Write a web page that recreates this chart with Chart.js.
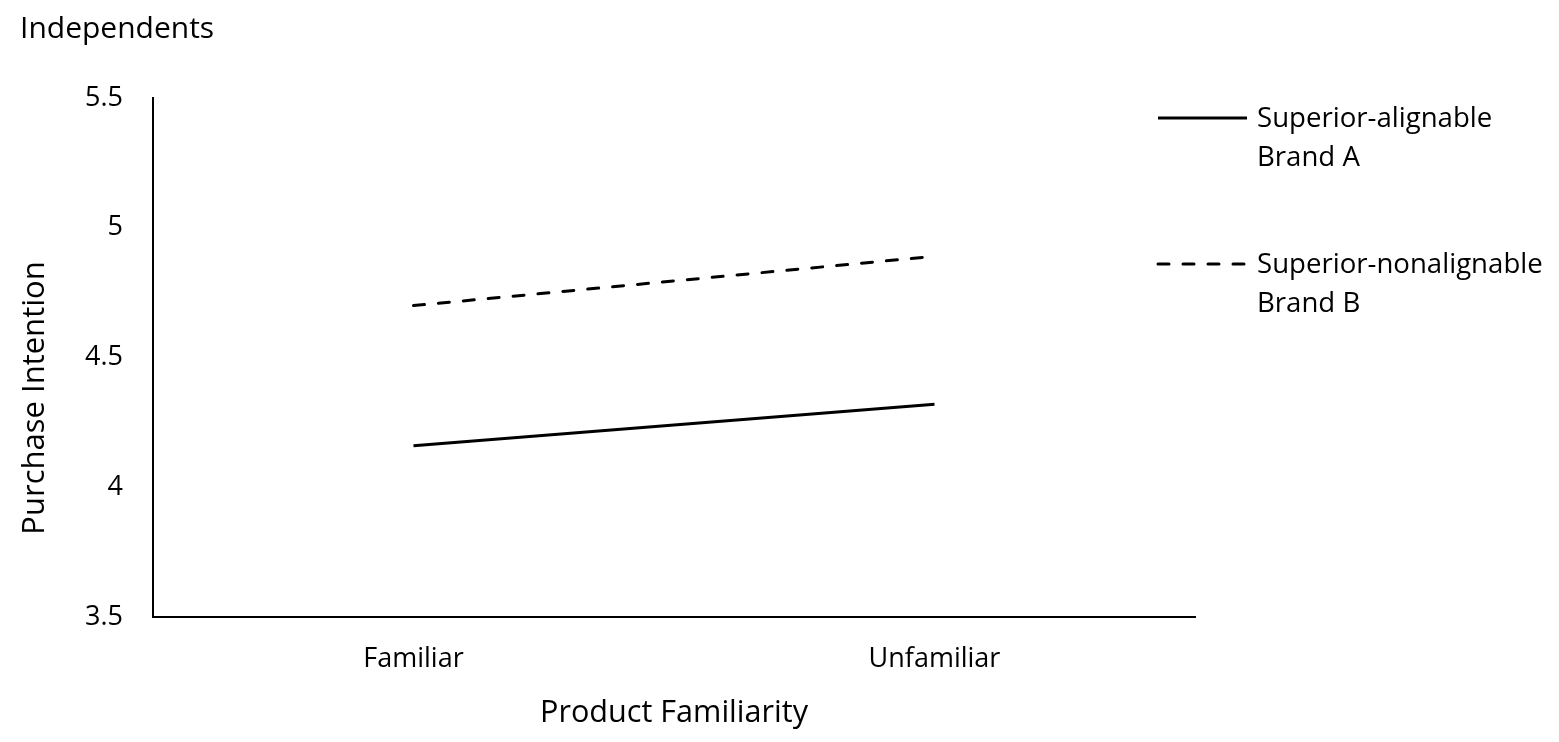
<!DOCTYPE html>
<html>
<head>
<meta charset="utf-8">
<script src="https://cdn.jsdelivr.net/npm/chart.js@4/dist/chart.umd.min.js"></script>
<style>
  html, body { margin: 0; padding: 0; background: #ffffff; }
  #wrap { width: 1559px; height: 742px; position: relative; }
</style>
</head>
<body>
<div id="wrap"><canvas id="c" width="1559" height="742"></canvas></div>
<script>
const categories = ["Familiar", "Unfamiliar"];
const seriesNames = [["Superior-alignable", "Brand A"], ["Superior-nonalignable", "Brand B"]];
const alignableA = [4.16, 4.32];
const nonalignableB = [4.70, 4.89];
const yTicks = [3.5, 4, 4.5, 5, 5.5];
const chartTitle = "Independents";
const xTitle = "Product Familiarity";
const yTitle = "Purchase Intention";

const FONT = "'Open Sans', Lato, sans-serif";

const overlay = {
  id: 'overlay',
  afterDraw(chart) {
    const ctx = chart.ctx;
    ctx.save();
    ctx.fillStyle = '#000';
    ctx.font = "30px " + FONT;
    ctx.textBaseline = 'alphabetic';
    ctx.textAlign = 'left';
    ctx.fillText(chartTitle, 20, 38);
    // y-axis title (placed lower than the plot centre, as in the reference)
    ctx.save();
    ctx.font = "31px " + FONT;
    ctx.translate(35, 398);
    ctx.rotate(-Math.PI / 2);
    ctx.textAlign = 'center';
    ctx.textBaseline = 'middle';
    ctx.fillText(yTitle, 0, 0);
    ctx.restore();
    // legend
    ctx.font = "27.6px " + FONT;
    const rows = [118, 264];
    chart.data.datasets.forEach((ds, i) => {
      const y = rows[i];
      ctx.save();
      ctx.strokeStyle = '#000';
      ctx.lineWidth = 3;
      ctx.lineCap = i === 0 ? 'butt' : 'round';
      ctx.setLineDash(ds.borderDash || []);
      ctx.beginPath();
      ctx.moveTo(1158, y);
      ctx.lineTo(i === 0 ? 1247 : 1245, y);
      ctx.stroke();
      ctx.restore();
      ds.label.forEach((t, k) => ctx.fillText(t, 1257, y + 9 + k * 39));
    });
    ctx.restore();
  }
};

new Chart(document.getElementById('c'), {
  type: 'line',
  data: {
    labels: categories,
    datasets: [
      { label: seriesNames[0], data: alignableA, borderColor: '#000', borderWidth: 3,
        pointRadius: 0, fill: false, tension: 0 },
      { label: seriesNames[1], data: nonalignableB, borderColor: '#000', borderWidth: 3,
        borderDash: [11, 14], borderCapStyle: 'round', pointRadius: 0, fill: false, tension: 0 }
    ]
  },
  options: {
    responsive: false,
    animation: false,
    devicePixelRatio: 1,
    layout: { padding: { left: 0, right: 364, top: 98, bottom: 0 } },
    plugins: { legend: { display: false }, title: { display: false }, tooltip: { enabled: false } },
    scales: {
      x: {
        offset: true,
        grid: { display: false, drawTicks: false },
        border: { display: true, color: '#000', width: 2 },
        ticks: { color: '#000', font: { family: FONT, size: 27 }, padding: 26 },
        title: { display: true, text: xTitle, color: '#000', font: { family: FONT, size: 30.6 }, padding: { top: 0, bottom: 10 } },
        afterFit(s) { s.height = 125; }
      },
      y: {
        min: 3.5, max: 5.5,
        afterBuildTicks(s) { s.ticks = yTicks.map(v => ({ value: v })); },
        grid: { display: false, drawTicks: false },
        border: { display: true, color: '#000', width: 2 },
        ticks: { color: '#000', font: { family: FONT, size: 27 }, padding: 30,
          callback: v => String(v) },
        title: { display: false },
        afterFit(s) { s.width = 153; }
      }
    }
  },
  plugins: [overlay]
});
</script>
</body>
</html>
